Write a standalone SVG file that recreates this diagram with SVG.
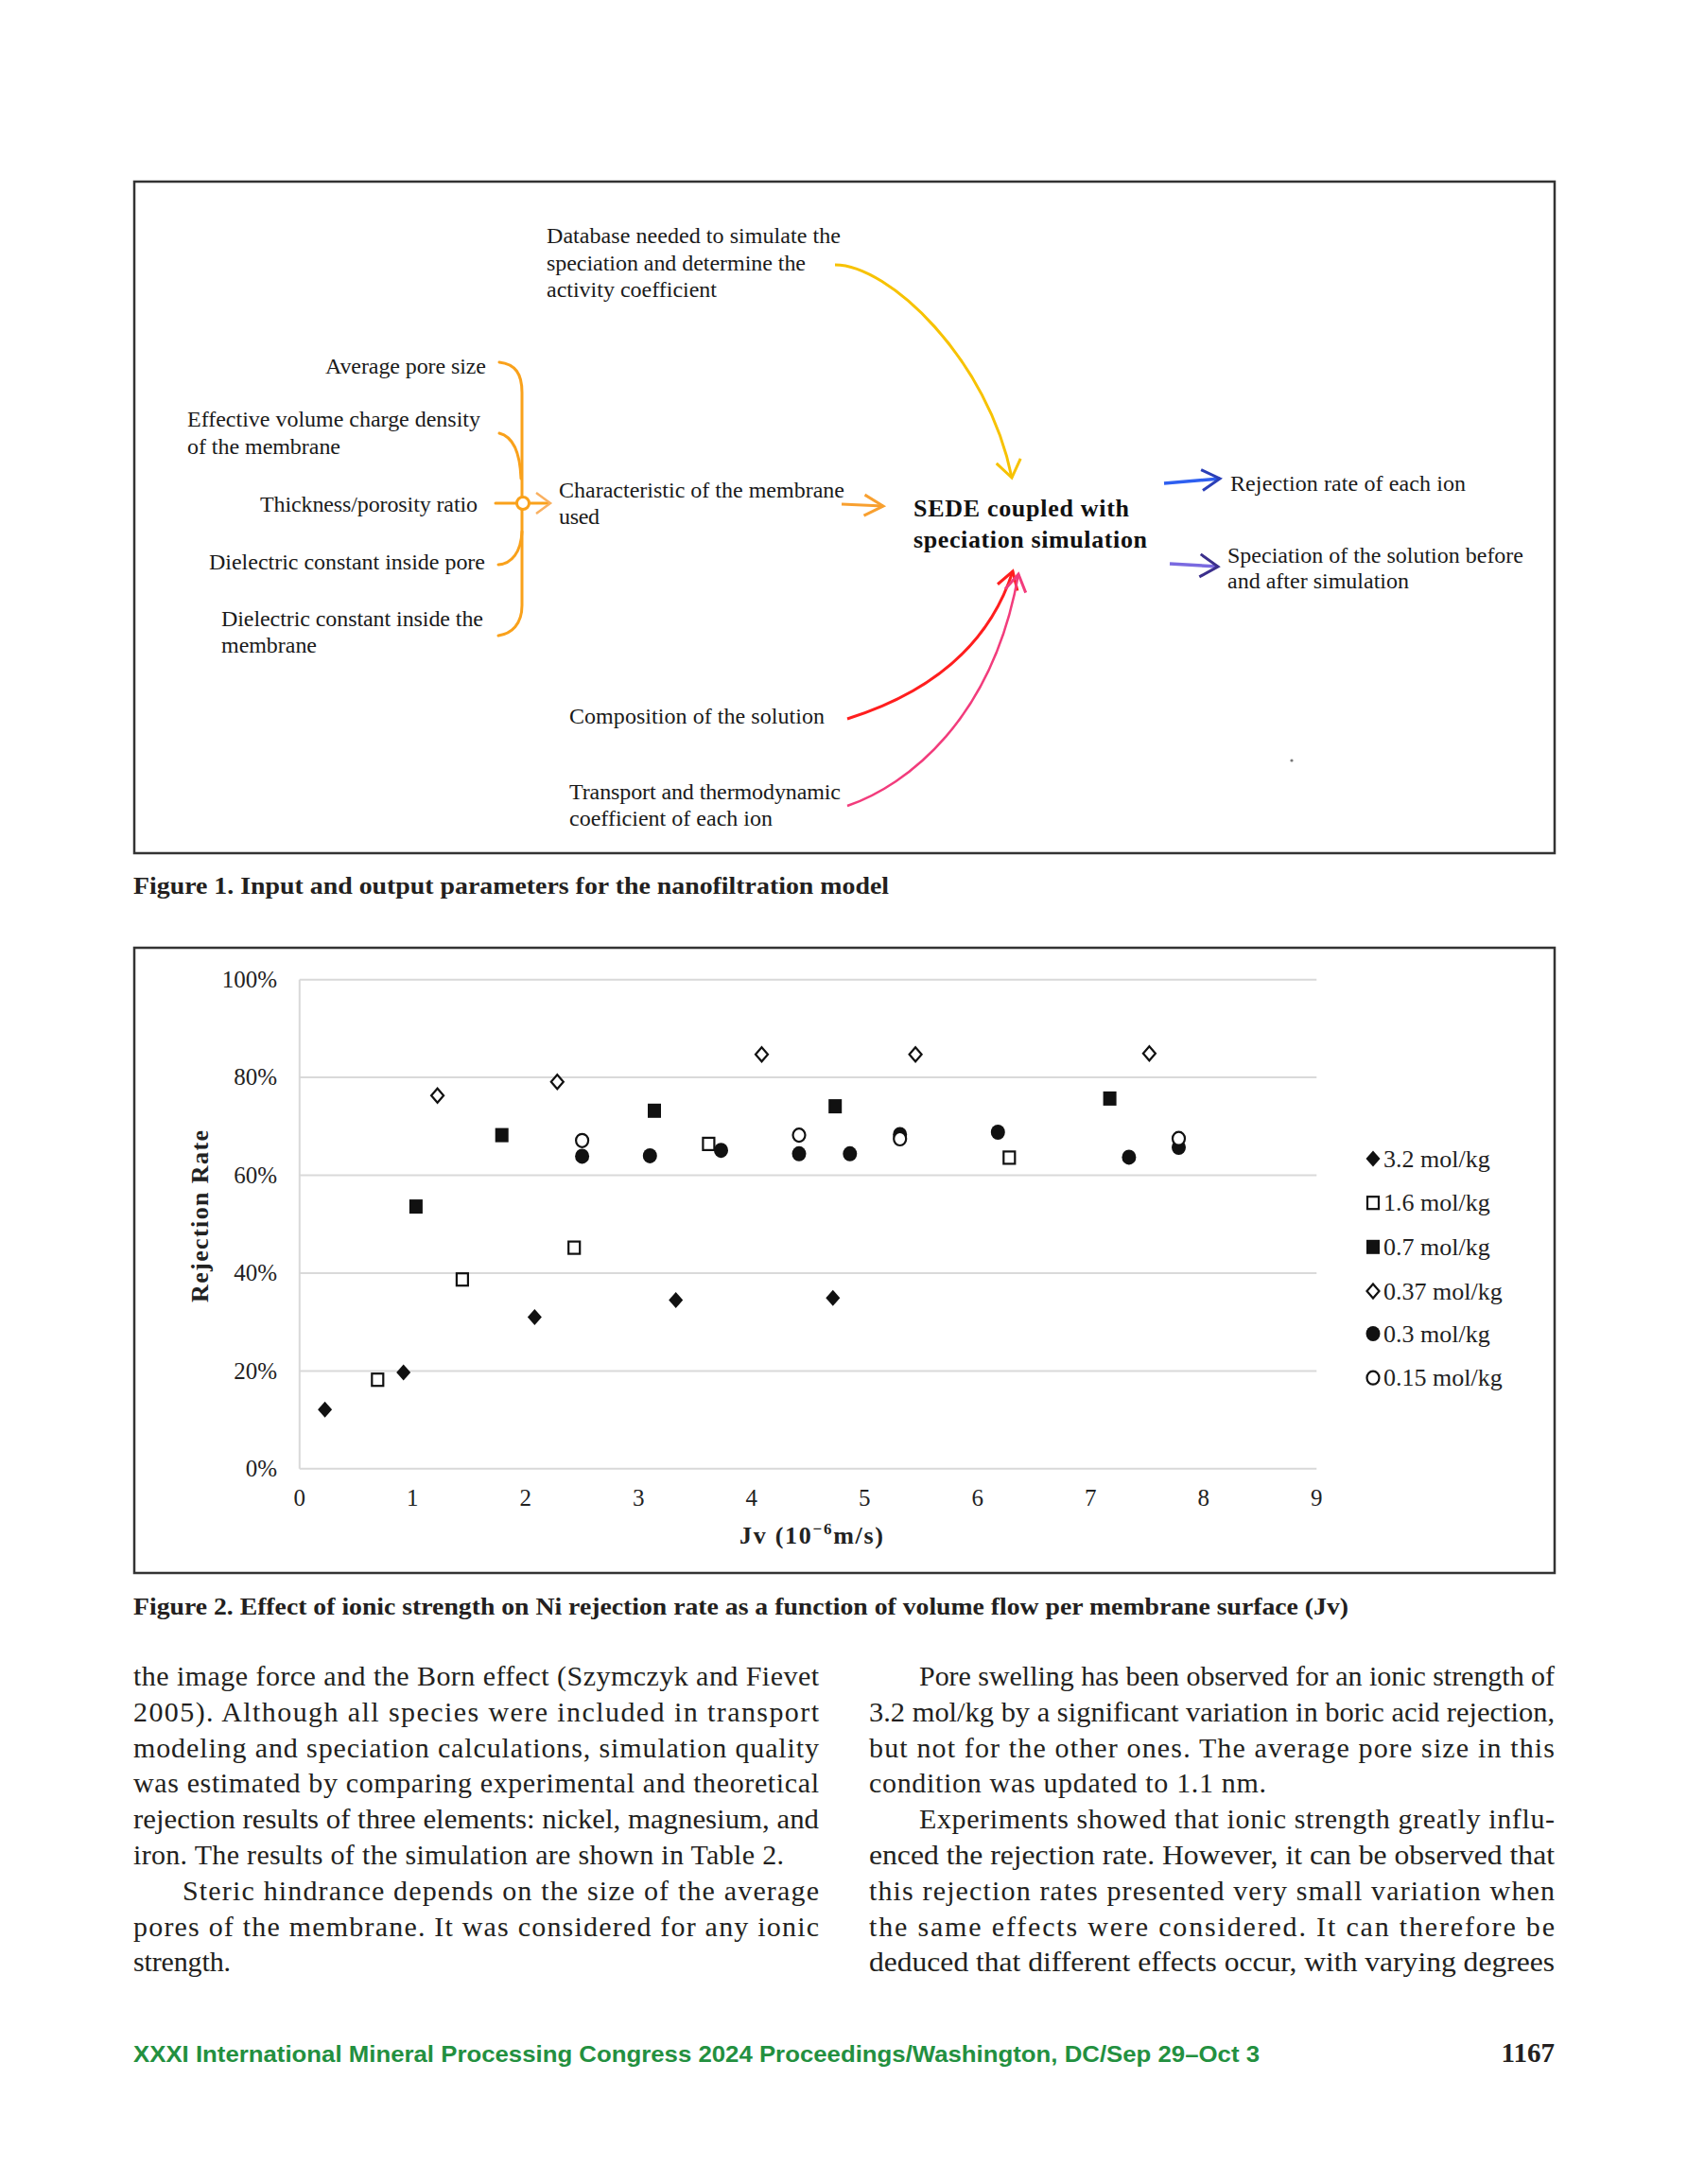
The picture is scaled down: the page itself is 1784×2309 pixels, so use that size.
<svg xmlns="http://www.w3.org/2000/svg" xmlns:xlink="http://www.w3.org/1999/xlink" width="1784" height="2309" viewBox="0 0 1784 2309">
<style>
.lbl{font-family:"Liberation Serif","Times New Roman",serif;font-size:24px;fill:#1a1a1a}
.sede{font-family:"Liberation Serif","Times New Roman",serif;font-size:26px;font-weight:bold;fill:#111}
.cap{font-family:"Liberation Serif","Times New Roman",serif;font-size:25px;font-weight:bold;fill:#231f20}
.body{font-family:"Liberation Serif","Times New Roman",serif;font-size:30px;fill:#231f20}
.ax{font-family:"Liberation Serif","Times New Roman",serif;font-size:25px;fill:#222}
.leg{font-family:"Liberation Serif","Times New Roman",serif;font-size:26px;fill:#222}
.axt{font-family:"Liberation Serif","Times New Roman",serif;font-size:26px;font-weight:bold;fill:#222}
.foot{font-family:"Liberation Sans",Arial,sans-serif;font-size:24px;font-weight:bold;fill:#23903f}
.frame{fill:none;stroke:#333;stroke-width:2.5}
.grid{stroke:#d9d9d9;stroke-width:2;fill:none}
.f{fill:#111}
.o{fill:#fff;stroke:#111;stroke-width:2.2}
.brace{fill:none;stroke:#f9a11b;stroke-width:3;stroke-linecap:round}
</style>
<defs>
<marker id="ah-yellow" markerUnits="userSpaceOnUse" viewBox="0 0 30 30" markerWidth="30" markerHeight="30" refX="22" refY="15" orient="auto"><path d="M4,2 L22,15 L4,28" fill="none" stroke="#f7c200" stroke-width="3"/></marker>
<marker id="ah-orange" markerUnits="userSpaceOnUse" viewBox="0 0 30 30" markerWidth="30" markerHeight="30" refX="22" refY="15" orient="auto"><path d="M2,4 L22,15 L2,26" fill="none" stroke="#f8a030" stroke-width="3"/></marker>
<marker id="ah-blue" markerUnits="userSpaceOnUse" viewBox="0 0 30 30" markerWidth="30" markerHeight="30" refX="22" refY="15" orient="auto"><path d="M3,4 L22,15 L3,26" fill="none" stroke="#2a3fb8" stroke-width="3"/></marker>
<marker id="ah-purple" markerUnits="userSpaceOnUse" viewBox="0 0 30 30" markerWidth="30" markerHeight="30" refX="22" refY="15" orient="auto"><path d="M3,3 L22,15 L3,27" fill="none" stroke="#3b2f8c" stroke-width="3"/></marker>
<marker id="ah-red" markerUnits="userSpaceOnUse" viewBox="0 0 30 30" markerWidth="30" markerHeight="30" refX="22" refY="15" orient="auto"><path d="M4,4 L22,15 L4,26" fill="none" stroke="#ff1e1e" stroke-width="3"/></marker>
<marker id="ah-pink" markerUnits="userSpaceOnUse" viewBox="0 0 30 30" markerWidth="30" markerHeight="30" refX="22" refY="15" orient="auto"><path d="M4,4 L22,15 L4,26" fill="none" stroke="#f23c7c" stroke-width="3"/></marker>
<path id="dia" d="M0,-8.5 L7.5,0 L0,8.5 L-7.5,0Z"/>
<path id="odia" d="M0,-7.5 L6.5,0 L0,7.5 L-6.5,0Z"/>
<rect id="sq" x="-7" y="-7.5" width="14" height="15"/>
<rect id="osq" x="-6" y="-6.5" width="12" height="13"/>
<ellipse id="cir" rx="7.5" ry="8"/>
<ellipse id="ocir" rx="6.5" ry="7"/>
</defs>
<rect width="1784" height="2309" fill="#fff"/>

<!-- Figure 1 -->
<rect class="frame" x="142" y="192" width="1502" height="710"/>

<g id="fig1-connectors">
  <path class="brace" d="M528,383 C545,385 552,395 552,415 L552,525"/>
  <path class="brace" d="M528,458 C544,462 550,480 551,506"/>
  <path class="brace" d="M524,532 L546,532"/>
  <path class="brace" d="M552,539 L552,640 C552,660 541,670 527,672"/>
  <path class="brace" d="M552,562 C551,584 541,596 527,597"/>
  <circle cx="553" cy="532" r="6.5" fill="#fff" stroke="#f9a11b" stroke-width="3"/>
  <path class="brace" d="M560,532 L580,532"/>
  <path d="M567,521 L582,532 L567,543" fill="none" stroke="#f9b060" stroke-width="2.5"/>
  <path d="M890,533 L934,535" fill="none" stroke="#f8a030" stroke-width="3" marker-end="url(#ah-orange)"/>
  <path d="M883,280 C940,280 1045,380 1070,505" fill="none" stroke="#f7c200" stroke-width="3" marker-end="url(#ah-yellow)"/>
  <path d="M896,760 C960,740 1040,700 1071,604" fill="none" stroke="#ff1e1e" stroke-width="3" marker-end="url(#ah-red)"/>
  <path d="M896,852 C960,830 1050,760 1077,607" fill="none" stroke="#f23c7c" stroke-width="2.5" marker-end="url(#ah-pink)"/>
  <path d="M1231,511 L1290,506" fill="none" stroke="#2e5ff0" stroke-width="3.5" marker-end="url(#ah-blue)"/>
  <path d="M1237,596 L1288,599" fill="none" stroke="#7a6ae0" stroke-width="3.5" marker-end="url(#ah-purple)"/>
</g>

<g id="node-database">
  <text class="lbl" x="578" y="257" textLength="311">Database needed to simulate the</text>
  <text class="lbl" x="578" y="286" textLength="274">speciation and determine the</text>
  <text class="lbl" x="578" y="314" textLength="180">activity coefficient</text>
</g>
<g id="node-pore-size"><text class="lbl" x="344" y="395" textLength="170">Average pore size</text></g>
<g id="node-charge-density">
  <text class="lbl" x="198" y="451" textLength="310">Effective volume charge density</text>
  <text class="lbl" x="198" y="480" textLength="162">of the membrane</text>
</g>
<g id="node-thickness"><text class="lbl" x="275" y="541" textLength="230">Thickness/porosity ratio</text></g>
<g id="node-dielectric-pore"><text class="lbl" x="221" y="602" textLength="292">Dielectric constant inside pore</text></g>
<g id="node-dielectric-membrane">
  <text class="lbl" x="234" y="662" textLength="277">Dielectric constant inside the</text>
  <text class="lbl" x="234" y="690" textLength="101">membrane</text>
</g>
<g id="node-characteristic">
  <text class="lbl" x="591" y="526" textLength="302">Characteristic of the membrane</text>
  <text class="lbl" x="591" y="554" textLength="43">used</text>
</g>
<g id="node-sede">
  <text class="sede" x="966" y="546" textLength="228">SEDE coupled with</text>
  <text class="sede" x="966" y="579" textLength="247">speciation simulation</text>
</g>
<g id="node-rejection"><text class="lbl" x="1301" y="519" textLength="249">Rejection rate of each ion</text></g>
<g id="node-speciation">
  <text class="lbl" x="1298" y="595" textLength="313">Speciation of the solution before</text>
  <text class="lbl" x="1298" y="622" textLength="192">and after simulation</text>
</g>
<g id="node-composition"><text class="lbl" x="602" y="765" textLength="270">Composition of the solution</text></g>
<g id="node-transport">
  <text class="lbl" x="602" y="845" textLength="287">Transport and thermodynamic</text>
  <text class="lbl" x="602" y="873" textLength="215">coefficient of each ion</text>
</g>
<circle cx="1366" cy="804" r="1.6" fill="#777"/>

<text class="cap" x="141" y="945" textLength="799" lengthAdjust="spacingAndGlyphs">Figure 1. Input and output parameters for the nanofiltration model</text>

<!-- Figure 2 -->
<rect class="frame" x="142" y="1002" width="1502" height="661"/>
<g id="chart-grid">
  <line class="grid" x1="316.8" y1="1035.7" x2="1392.3" y2="1035.7"/>
  <line class="grid" x1="316.8" y1="1139.1" x2="1392.3" y2="1139.1"/>
  <line class="grid" x1="316.8" y1="1242.5" x2="1392.3" y2="1242.5"/>
  <line class="grid" x1="316.8" y1="1345.9" x2="1392.3" y2="1345.9"/>
  <line class="grid" x1="316.8" y1="1449.4" x2="1392.3" y2="1449.4"/>
  <line class="grid" x1="316.8" y1="1552.8" x2="1392.3" y2="1552.8"/>
  <line class="grid" x1="316.8" y1="1035.7" x2="316.8" y2="1552.8"/>
</g>
<g id="chart-axis-labels">
  <g text-anchor="end">
    <text class="ax" x="293" y="1044">100%</text>
    <text class="ax" x="293" y="1147.4">80%</text>
    <text class="ax" x="293" y="1250.8">60%</text>
    <text class="ax" x="293" y="1354.2">40%</text>
    <text class="ax" x="293" y="1457.7">20%</text>
    <text class="ax" x="293" y="1561.1">0%</text>
  </g>
  <g text-anchor="middle">
    <text class="ax" x="316.8" y="1592">0</text>
    <text class="ax" x="436.3" y="1592">1</text>
    <text class="ax" x="555.8" y="1592">2</text>
    <text class="ax" x="675.3" y="1592">3</text>
    <text class="ax" x="794.8" y="1592">4</text>
    <text class="ax" x="914.3" y="1592">5</text>
    <text class="ax" x="1033.8" y="1592">6</text>
    <text class="ax" x="1153.3" y="1592">7</text>
    <text class="ax" x="1272.8" y="1592">8</text>
    <text class="ax" x="1392.3" y="1592">9</text>
  </g>
  <text class="axt" x="782" y="1632" textLength="152">Jv (10<tspan font-size="17" dy="-10">−6</tspan><tspan dy="10">m/s)</tspan></text>
  <text class="axt" transform="translate(220,1286) rotate(-90)" x="-91" y="0" textLength="182">Rejection Rate</text>
</g>
<g id="series-3.2" class="f">
  <use href="#dia" x="343.6" y="1490.2"/>
  <use href="#dia" x="426.7" y="1450.9"/>
  <use href="#dia" x="565.4" y="1392.5"/>
  <use href="#dia" x="714.7" y="1374.4"/>
  <use href="#dia" x="880.8" y="1372.3"/>
</g>
<g id="series-1.6" class="o">
  <use href="#osq" x="399.3" y="1458.7"/>
  <use href="#osq" x="488.9" y="1352.7"/>
  <use href="#osq" x="607.2" y="1319.1"/>
  <use href="#osq" x="749.4" y="1209.4"/>
  <use href="#osq" x="1067.3" y="1223.9"/>
</g>
<g id="series-0.7" class="f">
  <use href="#sq" x="439.9" y="1275.6"/>
  <use href="#sq" x="530.7" y="1200.1"/>
  <use href="#sq" x="692.0" y="1174.3"/>
  <use href="#sq" x="883.2" y="1169.6"/>
  <use href="#sq" x="1173.6" y="1161.4"/>
</g>
<g id="series-0.37" class="o">
  <use href="#odia" x="462.6" y="1158.3"/>
  <use href="#odia" x="589.3" y="1143.8"/>
  <use href="#odia" x="805.5" y="1114.8"/>
  <use href="#odia" x="968.1" y="1114.8"/>
  <use href="#odia" x="1215.4" y="1113.8"/>
</g>
<g id="series-0.3" class="f">
  <use href="#cir" x="615.6" y="1222.4"/>
  <use href="#cir" x="687.3" y="1221.9"/>
  <use href="#cir" x="762.5" y="1216.2"/>
  <use href="#cir" x="845.0" y="1219.8"/>
  <use href="#cir" x="898.8" y="1219.8"/>
  <use href="#cir" x="951.7" y="1199.5"/>
  <use href="#cir" x="1055.3" y="1197.0"/>
  <use href="#cir" x="1193.9" y="1223.4"/>
  <use href="#cir" x="1246.5" y="1213.1"/>
</g>
<g id="series-0.15" class="o">
  <use href="#ocir" x="615.6" y="1205.8"/>
  <use href="#ocir" x="845.0" y="1200.1"/>
  <use href="#ocir" x="951.7" y="1204.0"/>
  <use href="#ocir" x="1246.5" y="1203.7"/>
</g>
<g id="legend">
  <use href="#dia" class="f" x="1452" y="1225"/>
  <text class="leg" x="1463" y="1233.5">3.2 mol/kg</text>
  <use href="#osq" class="o" x="1452" y="1271.7"/>
  <text class="leg" x="1463" y="1280.2">1.6 mol/kg</text>
  <use href="#sq" class="f" x="1452" y="1318.3"/>
  <text class="leg" x="1463" y="1326.8">0.7 mol/kg</text>
  <use href="#odia" class="o" x="1452" y="1365"/>
  <text class="leg" x="1463" y="1373.5">0.37 mol/kg</text>
  <use href="#cir" class="f" x="1452" y="1410"/>
  <text class="leg" x="1463" y="1418.5">0.3 mol/kg</text>
  <use href="#ocir" class="o" x="1452" y="1456.7"/>
  <text class="leg" x="1463" y="1465.2">0.15 mol/kg</text>
</g>

<text class="cap" x="141" y="1707" textLength="1285" lengthAdjust="spacingAndGlyphs">Figure 2. Effect of ionic strength on Ni rejection rate as a function of volume flow per membrane surface (Jv)</text>

<!-- Body text -->
<g id="body-left">
  <text class="body" x="141" y="1782" textLength="725">the image force and the Born effect (Szymczyk and Fievet</text>
  <text class="body" x="141" y="1819.8" textLength="725">2005). Although all species were included in transport</text>
  <text class="body" x="141" y="1857.6" textLength="725">modeling and speciation calculations, simulation quality</text>
  <text class="body" x="141" y="1895.4" textLength="725">was estimated by comparing experimental and theoretical</text>
  <text class="body" x="141" y="1933.2" textLength="725" lengthAdjust="spacingAndGlyphs">rejection results of three elements: nickel, magnesium, and</text>
  <text class="body" x="141" y="1971" textLength="688">iron. The results of the simulation are shown in Table 2.</text>
  <text class="body" x="193" y="2008.8" textLength="673">Steric hindrance depends on the size of the average</text>
  <text class="body" x="141" y="2046.6" textLength="725">pores of the membrane. It was considered for any ionic</text>
  <text class="body" x="141" y="2084.4" textLength="103">strength.</text>
</g>
<g id="body-right">
  <text class="body" x="972" y="1782" textLength="672">Pore swelling has been observed for an ionic strength of</text>
  <text class="body" x="919" y="1819.8" textLength="725" lengthAdjust="spacingAndGlyphs">3.2 mol/kg by a significant variation in boric acid rejection,</text>
  <text class="body" x="919" y="1857.6" textLength="725">but not for the other ones. The average pore size in this</text>
  <text class="body" x="919" y="1895.4" textLength="420">condition was updated to 1.1 nm.</text>
  <text class="body" x="972" y="1933.2" textLength="672">Experiments showed that ionic strength greatly influ-</text>
  <text class="body" x="919" y="1971" textLength="725" lengthAdjust="spacingAndGlyphs">enced the rejection rate. However, it can be observed that</text>
  <text class="body" x="919" y="2008.8" textLength="725">this rejection rates presented very small variation when</text>
  <text class="body" x="919" y="2046.6" textLength="725">the same effects were considered. It can therefore be</text>
  <text class="body" x="919" y="2084.4" textLength="725" lengthAdjust="spacingAndGlyphs">deduced that different effects occur, with varying degrees</text>
</g>

<text class="foot" x="141" y="2180" textLength="1191" lengthAdjust="spacingAndGlyphs">XXXI International Mineral Processing Congress 2024 Proceedings/Washington, DC/Sep 29–Oct 3</text>
<text x="1644" y="2180" text-anchor="end" font-family="Liberation Serif, Times New Roman, serif" font-size="29" font-weight="bold" fill="#231f20">1167</text>
</svg>
